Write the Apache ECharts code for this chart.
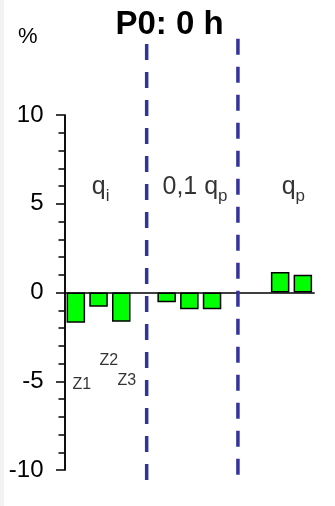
<!DOCTYPE html>
<html>
<head>
<meta charset="utf-8">
<script src="https://cdn.jsdelivr.net/npm/echarts@6/dist/echarts.min.js"></script>
<style>
  html, body { margin: 0; padding: 0; background: #f3f3f3; }
  #chart { position: absolute; left: 4px; top: 0; width: 331px; height: 506px; background: #ffffff; }
</style>
</head>
<body>
<div id="chart"></div>
<script>
// Change (%) per zone for each flow case
const zones = ['Z1', 'Z2', 'Z3'];
const groupNames = ['q_i', '0,1 q_p', 'q_p'];
const qiValues = [-1.7, -0.8, -1.65];
const q01pValues = [-0.55, -0.95, -0.95];
const qpValues = [null, 1.15, 1.0];

// Value axis: labelled every 5 %, small ticks every 1 %
const yMin = -10, yMax = 10, yInterval = 5, yMinorInterval = 1;

// Slot layout: each group uses three zone slots, groups separated by one empty slot
const groupValues = [qiValues, q01pValues, qpValues];
const slots = [];
const barValues = [];
groupValues.forEach((vals, g) => {
  vals.forEach((v, i) => { slots.push(groupNames[g] + ' ' + zones[i]); barValues.push(v); });
  if (g < groupValues.length - 1) { slots.push('sep' + g); barValues.push(null); }
});

// Dashed separators (slot units on x, % units on y)
const separatorX = [3.62, 7.64];
const separatorSpan = [[14.0, -10.6], [14.3, -10.3]];

// Group caption positions (slot units, %)
const groupLabelPos = [[1.59, 6.0], [5.75, 6.0], [10.08, 6.0]];
const groupLabelRich = ['{b|q}{s|i}', '{b|0,1 q}{s|p}', '{b|q}{s|p}'];

// Zone caption positions under the first group
const zoneLabelPos = [[0.76, -5.2], [1.95, -3.85], [2.75, -4.95]];

const FONT = 'Liberation Sans, Arial, sans-serif';
const chart = echarts.init(document.getElementById('chart'));

const series = [
  {
    type: 'bar',
    xAxisIndex: 0, yAxisIndex: 0,
    data: barValues,
    barWidth: 18.5,
    itemStyle: { color: '#00ff00', borderColor: '#000000', borderWidth: 1.5 },
    z: 2,
    silent: true
  }
];

separatorX.forEach((x, k) => {
  series.push({
    type: 'line',
    xAxisIndex: 1, yAxisIndex: 0,
    data: [[x, separatorSpan[k][0]], [x, separatorSpan[k][1]]],
    symbol: 'none',
    clip: false,
    silent: true,
    lineStyle: { color: '#333399', width: 3.5, type: [16, 12], cap: 'butt' },
    z: 3
  });
});

series.push({
  type: 'scatter',
  xAxisIndex: 1, yAxisIndex: 0,
  symbolSize: 0,
  silent: true,
  clip: false,
  data: groupLabelPos.map((p, i) => ({ value: p, label: { formatter: groupLabelRich[i] } })),
  label: {
    show: true,
    position: 'inside',
    color: '#000',
    fontFamily: FONT,
    rich: {
      b: { fontSize: 25, fontFamily: FONT, color: '#000', verticalAlign: 'bottom', lineHeight: 28 },
      s: { fontSize: 17, fontFamily: FONT, color: '#000', verticalAlign: 'bottom', lineHeight: 17, padding: [0, 0, -5, 0] }
    }
  }
});

series.push({
  type: 'scatter',
  xAxisIndex: 1, yAxisIndex: 0,
  symbolSize: 0,
  silent: true,
  clip: false,
  data: zoneLabelPos.map((p, i) => ({ value: p, label: { formatter: zones[i] } })),
  label: { show: true, position: 'inside', color: '#000', fontSize: 16, fontFamily: FONT }
});

const axisLineStyle = { color: '#000', width: 1.5 };

chart.setOption({
  animation: false,
  title: [
    { text: 'P0: 0 h', left: 'center', top: 3,
      textStyle: { fontSize: 33, fontWeight: 'bold', fontFamily: FONT, color: '#000' } },
    { text: '%', left: 9, top: 21,
      textStyle: { fontSize: 22, fontWeight: 'normal', fontFamily: FONT, color: '#000' } }
  ],
  grid: { left: 60.5, right: 20.8, top: 115, bottom: 36, containLabel: false },
  xAxis: [
    {
      type: 'category', data: slots, boundaryGap: true,
      axisLine: { onZero: true, onZeroAxisIndex: 0, lineStyle: axisLineStyle },
      axisTick: { show: false }, axisLabel: { show: false }, splitLine: { show: false }
    },
    { type: 'value', min: 0, max: slots.length, show: false }
  ],
  yAxis: [
    {
      type: 'value', min: yMin, max: yMax, interval: yInterval,
      axisLine: { show: true, lineStyle: axisLineStyle },
      axisTick: { show: true, inside: false, length: 8.5, lineStyle: axisLineStyle },
      axisLabel: { fontSize: 24, color: '#000', fontFamily: FONT, margin: 21 },
      splitLine: { show: false }
    },
    {
      type: 'value', min: yMin, max: yMax, interval: yMinorInterval, position: 'left',
      axisLine: { show: true, lineStyle: axisLineStyle },
      axisTick: { show: true, inside: false, length: 6, lineStyle: axisLineStyle },
      axisLabel: { show: false },
      splitLine: { show: false }
    }
  ],
  series: series
});
</script>
</body>
</html>
